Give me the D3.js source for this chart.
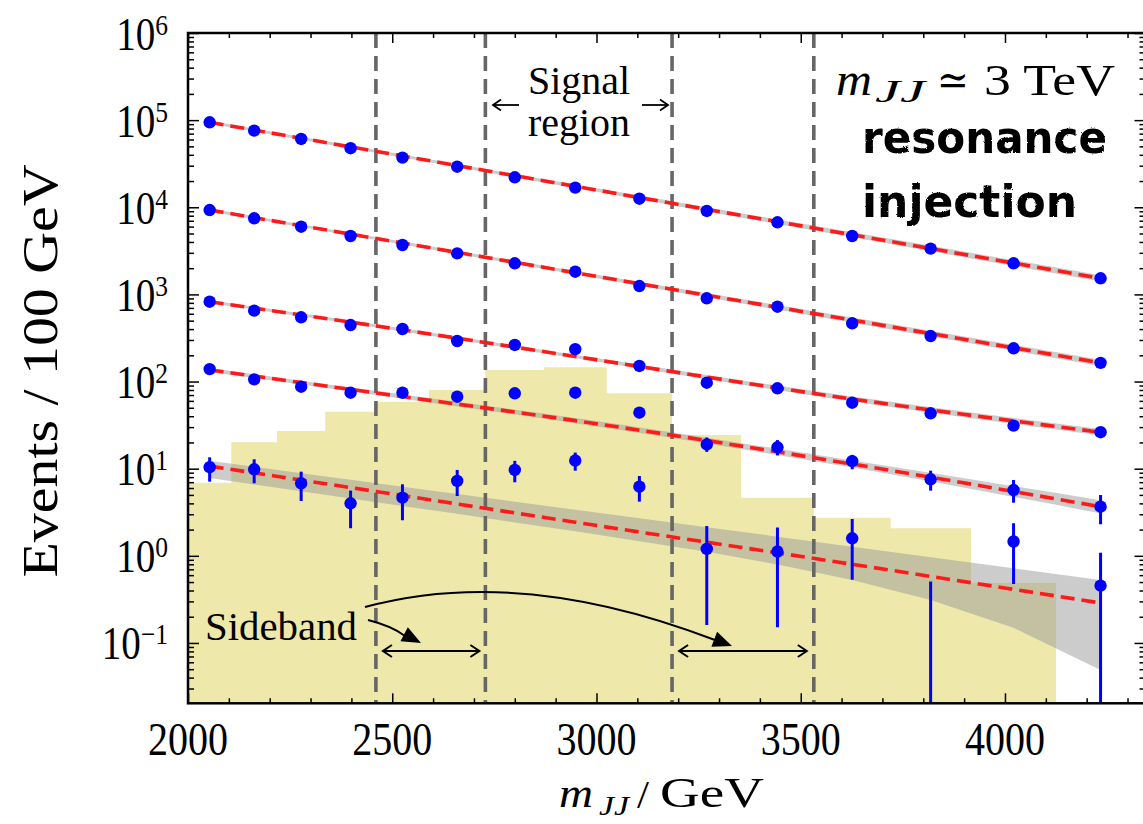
<!DOCTYPE html>
<html>
<head>
<meta charset="utf-8">
<script src="https://cdn.jsdelivr.net/npm/d3@7"></script>
<style>
body { margin: 0; background: #fff; }
svg { display: block; }
</style>
</head>
<body>
<div id="chart"></div>
<script>
// histogram binning in m_JJ (GeV)
var binEdges = [2000, 2106, 2218, 2336, 2460, 2590, 2728, 2872, 3025, 3185, 3354, 3532, 3720, 3917, 4125, 4344];
var binCenters = [2053, 2162, 2277, 2398, 2525, 2659, 2800, 2948, 3105, 3270, 3443, 3626, 3818, 4021, 4234];

// injected signal (yellow histogram)
var signalHist = [6.9, 20.1, 27.1, 45.1, 58.7, 80, 136, 146, 73.3, 24.4, 4.65, 2.74, 2.07, 0.492, 0];

// pseudo-data, one list per injection strength
var series1 = [94500, 75700, 60800, 47600, 37100, 29200, 22100, 16800, 12550, 9070, 6730, 4680, 3350, 2277, 1531];
var series2 = [9300, 7470, 5980, 4680, 3690, 2960, 2277, 1823, 1248, 902, 722, 466, 333, 241, 164];
var series3 = [825, 651, 546, 445, 401, 292, 263, 235, 151, 97, 83.7, 57.2, 43.2, 31.2, 26.2];
var series4 = [139, 106, 87.3, 74.5, 74.5, 67.0, 73.3, 74.5, 44.0, 19.0, 17.6, 12.2, 7.55, 5.69, 3.66];
var series5 = [10.4, 9.84, 6.80, 4.01, 4.65, 7.23, 9.67, 12.4, 6.21, 1.20, 1.12, 1.59, 0, 1.46, 0.454];

// error bars (low / high ends)
var series4Lo = [127, 96, 78, 66, 66, 59, 65, 66, 38, 15.6, 14.2, 9.84, 5.60, 4.07, 2.30];
var series4Hi = [151, 116, 97, 83, 83, 75, 82, 83, 50, 22.8, 21.3, 14.4, 9.49, 7.41, 4.99];
var series5Lo = [7.1, 6.8, 4.26, 2.07, 2.56, 4.86, 6.98, 9.49, 4.18, 0.161, 0.151, 0.53, 0, 0.475, 0];
var series5Hi = [13.5, 12.8, 9.24, 5.60, 6.62, 9.67, 12.3, 15.3, 8.24, 2.20, 2.11, 2.65, 0.506, 2.37, 1.087];

// sideband fits, read at these bins
var fitBins = [0, 4, 7, 11, 14];
var fit1 = [94400, 38800, 17400, 4830, 1530];
var fit2 = [9300, 3890, 1774, 507, 164];
var fit3 = [825, 392, 194, 63, 26.2];
var fit4 = [136, 67.2, 35.6, 11.3, 3.66];
var fit5 = [10.7, 4.92, 2.43, 0.80, 0.288];

// fit uncertainty bands at fitBins
var band1Lo = [90800, 37300, 16600, 4520, 1410];
var band1Hi = [98200, 40400, 18200, 5160, 1660];
var band2Lo = [8950, 3740, 1690, 474, 151];
var band2Hi = [9660, 4050, 1860, 542, 178];
var band3Lo = [793, 376, 185, 59, 24.1];
var band3Hi = [858, 408, 203, 67.4, 28.5];
var band4Lo = [129, 63.5, 33.2, 10.3, 3.07];
var band4Hi = [143, 71.0, 38.2, 12.4, 4.35];
// lowest fit band, every bin
var band5Lo = [7.82, 6.59, 5.51, 4.56, 3.73, 3.03, 2.41, 1.91, 1.47, 1.11, 0.796, 0.528, 0.311, 0.149, 0.049];
var band5Hi = [12.3, 10.5, 8.87, 7.46, 6.22, 5.13, 4.18, 3.38, 2.70, 2.13, 1.66, 1.27, 0.965, 0.719, 0.528];

// signal region / sideband boundaries
var regionEdges = [2460, 2728, 3185, 3532];

var xTicks = [2000, 2500, 3000, 3500, 4000];
var yDecades = [-1, 0, 1, 2, 3, 4, 5, 6];

var width = 1143,
    height = 824;

// plot frame (window.top is reserved, so no plain "top")
var pLeft = 188, pRight = 1145.5, pTop = 33, pBottom = 703.3;

var serif = "'Liberation Serif', 'DejaVu Serif', serif";

var svg = d3.select('#chart').append('svg')
    .attr('width', width)
    .attr('height', height);

var x = d3.scaleLinear().domain([2000, 4344]).range([pLeft, pRight]);
var y = d3.scaleLog().domain([0.0203, 1e6]).range([pBottom, pTop]);

var defs = svg.append('defs');
defs.append('clipPath').attr('id', 'plotclip')
  .append('rect')
    .attr('x', pLeft).attr('y', pTop)
    .attr('width', pRight - pLeft).attr('height', pBottom - pTop);

// rough edges for the hand-written note
var rough = defs.append('filter').attr('id', 'rough')
    .attr('x', '-5%').attr('y', '-5%').attr('width', '110%').attr('height', '110%');
rough.append('feTurbulence').attr('type', 'fractalNoise')
    .attr('baseFrequency', 0.8).attr('numOctaves', 1).attr('result', 'noise');
rough.append('feDisplacementMap').attr('in', 'SourceGraphic').attr('in2', 'noise')
    .attr('scale', 2.5);

var plot = svg.append('g').attr('clip-path', 'url(#plotclip)');

// yellow signal histogram
var histPts = [];
signalHist.forEach(function(v, i) { if (v > 0) histPts.push({e: binEdges[i], v: v}); });
histPts.push({e: binEdges[histPts.length], v: histPts[histPts.length - 1].v});
plot.append('path')
    .datum(histPts)
    .attr('fill', '#eee8aa')
    .attr('d', d3.area()
        .x(function(d) { return x(d.e); })
        .y0(pBottom)
        .y1(function(d) { return y(d.v); })
        .curve(d3.curveStepAfter));

// fit bands
var fits = [fit1, fit2, fit3, fit4, fit5];
var bandsLo = [band1Lo, band2Lo, band3Lo, band4Lo];
var bandsHi = [band1Hi, band2Hi, band3Hi, band4Hi];

var bandArea = d3.area()
    .x(function(d) { return x(binCenters[d.b]); })
    .y0(function(d) { return y(d.lo); })
    .y1(function(d) { return y(d.hi); })
    .curve(d3.curveMonotoneX);

bandsLo.forEach(function(lo, k) {
  var pts = fitBins.map(function(b, i) { return {b: b, lo: lo[i], hi: bandsHi[k][i]}; });
  plot.append('path').datum(pts)
      .attr('fill', '#999').attr('fill-opacity', 0.5)
      .attr('d', bandArea);
});
var band5 = band5Lo.map(function(lo, i) { return {b: i, lo: lo, hi: band5Hi[i]}; });
plot.append('path').datum(band5)
    .attr('fill', '#999').attr('fill-opacity', 0.5)
    .attr('d', bandArea.curve(d3.curveLinear));

// vertical dashed region boundaries
plot.selectAll('.region').data(regionEdges).enter()
  .append('line')
    .attr('class', 'region')
    .attr('x1', function(d) { return x(d); })
    .attr('x2', function(d) { return x(d); })
    .attr('y1', pTop).attr('y2', pBottom)
    .attr('stroke', '#666')
    .attr('stroke-width', 3.6)
    .attr('stroke-dasharray', '15,8');

// red dashed fits
var fitLine = d3.line()
    .x(function(d, i) { return x(binCenters[fitBins[i]]); })
    .y(function(d) { return y(d); })
    .curve(d3.curveMonotoneX);
fits.forEach(function(f) {
  plot.append('path').datum(f)
      .attr('fill', 'none')
      .attr('stroke', '#ff1a1a')
      .attr('stroke-width', 3.6)
      .attr('stroke-dasharray', '14,7')
      .attr('d', fitLine);
});

// error bars
var ymin = y.domain()[0];
function errorBars(vals, lo, hi) {
  plot.append('g').selectAll('line').data(vals).enter()
    .append('line')
      .attr('x1', function(d, i) { return x(binCenters[i]); })
      .attr('x2', function(d, i) { return x(binCenters[i]); })
      .attr('y1', function(d, i) { return y(Math.max(lo[i], ymin)); })
      .attr('y2', function(d, i) { return y(hi[i]); })
      .attr('stroke', '#0000ff')
      .attr('stroke-width', 3);
}
errorBars(series4, series4Lo, series4Hi);
errorBars(series5, series5Lo, series5Hi);

// data points
[series1, series2, series3, series4, series5].forEach(function(s) {
  var pts = s.map(function(v, i) { return {v: v, c: binCenters[i]}; })
      .filter(function(d) { return d.v > 0; });
  plot.append('g').selectAll('circle').data(pts).enter()
    .append('circle')
      .attr('cx', function(d) { return x(d.c); })
      .attr('cy', function(d) { return y(d.v); })
      .attr('r', 6.2)
      .attr('fill', '#0000ff');
});

// frame and ticks (inward on all four sides)
var xMinor = d3.range(2100, 4344, 100).filter(function(v) { return v % 500 !== 0; });
var yMinor = [];
for (var k = -2; k < 6; k++) {
  for (var m = 2; m < 10; m++) {
    var v = m * Math.pow(10, k);
    if (v > ymin && v < 1e6) yMinor.push(v);
  }
}
var yMajor = yDecades.map(function(d) { return Math.pow(10, d); });

function tickAxis(axis, tr) {
  var g = svg.append('g').attr('transform', tr).call(axis);
  g.select('.domain').remove();
  g.selectAll('line').attr('stroke', '#000').attr('stroke-width', 1.5);
  g.selectAll('text').remove();
}
tickAxis(d3.axisBottom(x).tickValues(xTicks).tickSize(-10), 'translate(0,' + pBottom + ')');
tickAxis(d3.axisBottom(x).tickValues(xMinor).tickSize(-5), 'translate(0,' + pBottom + ')');
tickAxis(d3.axisTop(x).tickValues(xTicks).tickSize(-10), 'translate(0,' + pTop + ')');
tickAxis(d3.axisTop(x).tickValues(xMinor).tickSize(-5), 'translate(0,' + pTop + ')');
tickAxis(d3.axisLeft(y).tickValues(yMajor).tickSize(-11), 'translate(' + pLeft + ',0)');
tickAxis(d3.axisLeft(y).tickValues(yMinor).tickSize(-6), 'translate(' + pLeft + ',0)');
tickAxis(d3.axisRight(y).tickValues(yMajor).tickSize(-11), 'translate(' + pRight + ',0)');
tickAxis(d3.axisRight(y).tickValues(yMinor).tickSize(-6), 'translate(' + pRight + ',0)');

svg.append('rect')
    .attr('x', pLeft).attr('y', pTop)
    .attr('width', pRight - pLeft).attr('height', pBottom - pTop)
    .attr('fill', 'none')
    .attr('stroke', '#000')
    .attr('stroke-width', 2.5);

// tick labels
yDecades.forEach(function(k) {
  var t = svg.append('text')
      .attr('transform', 'translate(168,' + (y(Math.pow(10, k)) + 16.5) + ') scale(0.85,1)')
      .attr('text-anchor', 'end')
      .attr('font-family', serif)
      .attr('font-size', 46);
  t.append('tspan').text('10');
  t.append('tspan').attr('dy', -15).attr('font-size', 30)
      .text(k < 0 ? '\u2212' + (-k) : String(k));
});

xTicks.forEach(function(v) {
  svg.append('text')
      .attr('transform', 'translate(' + x(v) + ',755) scale(0.87,1)')
      .attr('text-anchor', 'middle')
      .attr('font-family', serif)
      .attr('font-size', 46)
      .text(v);
});

// axis titles
svg.append('text')
    .attr('transform', 'translate(57,371) rotate(-90)')
    .attr('text-anchor', 'middle')
    .attr('font-family', serif)
    .attr('font-size', 50)
    .attr('textLength', 413)
    .attr('lengthAdjust', 'spacingAndGlyphs')
    .text('Events / 100 GeV');

function piece(txt, px, py, size, len, italic) {
  svg.append('text')
      .attr('x', px).attr('y', py)
      .attr('font-family', serif)
      .attr('font-size', size)
      .attr('font-style', italic ? 'italic' : 'normal')
      .attr('textLength', len)
      .attr('lengthAdjust', 'spacingAndGlyphs')
      .text(txt);
}
piece('m', 559, 807, 42, 34, true);
piece('JJ', 599, 815, 28, 30, true);
piece('/', 637, 808, 40, 12, false);
piece('GeV', 660, 807, 42, 104, false);

// annotation: m_JJ ~ 3 TeV
piece('m', 836, 95, 46, 36, true);
piece('JJ', 875, 102, 31, 50, true);
piece('\u2243', 937, 95, 44, 32, false);
piece('3 TeV', 984, 95, 45, 131, false);

// hand-written note
['resonance', 'injection'].forEach(function(w, i) {
  svg.append('text')
      .attr('x', 862).attr('y', [153, 217][i])
      .attr('font-family', "'DejaVu Sans', sans-serif")
      .attr('font-weight', 'bold')
      .attr('font-size', 44)
      .attr('textLength', [245, 215][i])
      .attr('lengthAdjust', 'spacingAndGlyphs')
      .attr('filter', 'url(#rough)')
      .text(w);
});

// signal region label
piece('Signal', 528, 94, 39, 102, false);
piece('region', 528, 136, 39, 102, false);

// arrows
function openHead(g, tx, ty, dx, dy, len, half, sw) {
  var n = Math.sqrt(dx * dx + dy * dy), ux = dx / n, uy = dy / n;
  var bx = tx - ux * len, by = ty - uy * len;
  g.append('path')
      .attr('d', 'M' + (bx - uy * half) + ',' + (by + ux * half) + 'L' + tx + ',' + ty +
                 'L' + (bx + uy * half) + ',' + (by - ux * half))
      .attr('fill', 'none').attr('stroke', '#000').attr('stroke-width', sw);
}
function filledHead(g, tx, ty, dx, dy, len, half) {
  var n = Math.sqrt(dx * dx + dy * dy), ux = dx / n, uy = dy / n;
  var bx = tx - ux * len, by = ty - uy * len;
  g.append('path')
      .attr('d', 'M' + (bx - uy * half) + ',' + (by + ux * half) + 'L' + tx + ',' + ty +
                 'L' + (bx + uy * half) + ',' + (by - ux * half) + 'Z')
      .attr('fill', '#000');
}

var ann = svg.append('g');
// signal region arrows
ann.append('line').attr('x1', 519).attr('x2', 494).attr('y1', 105).attr('y2', 105)
    .attr('stroke', '#000').attr('stroke-width', 1.8);
openHead(ann, 493, 105, -1, 0, 8, 5.5, 1.8);
ann.append('line').attr('x1', 642).attr('x2', 667).attr('y1', 105).attr('y2', 105)
    .attr('stroke', '#000').attr('stroke-width', 1.8);
openHead(ann, 668, 105, 1, 0, 8, 5.5, 1.8);

// sideband double arrows
[[x(regionEdges[0]) + 7, x(regionEdges[1]) - 6], [x(regionEdges[2]) + 7, x(regionEdges[3]) - 7]]
  .forEach(function(s) {
    ann.append('line').attr('x1', s[0]).attr('x2', s[1]).attr('y1', 651).attr('y2', 651)
        .attr('stroke', '#000').attr('stroke-width', 2);
    openHead(ann, s[0], 651, -1, 0, 9, 6, 2);
    openHead(ann, s[1], 651, 1, 0, 9, 6, 2);
  });

// Sideband label and curved pointers
piece('Sideband', 205, 640, 41, 152, false);
ann.append('path')
    .attr('d', 'M368,620 Q392,626 405,636')
    .attr('fill', 'none').attr('stroke', '#000').attr('stroke-width', 2);
filledHead(ann, 421, 643, 25, 13, 19, 8);
ann.append('path')
    .attr('d', 'M365,607 Q520,565 715,640')
    .attr('fill', 'none').attr('stroke', '#000').attr('stroke-width', 2);
filledHead(ann, 732, 646, 211, 81, 19, 8);
</script>
</body>
</html>
